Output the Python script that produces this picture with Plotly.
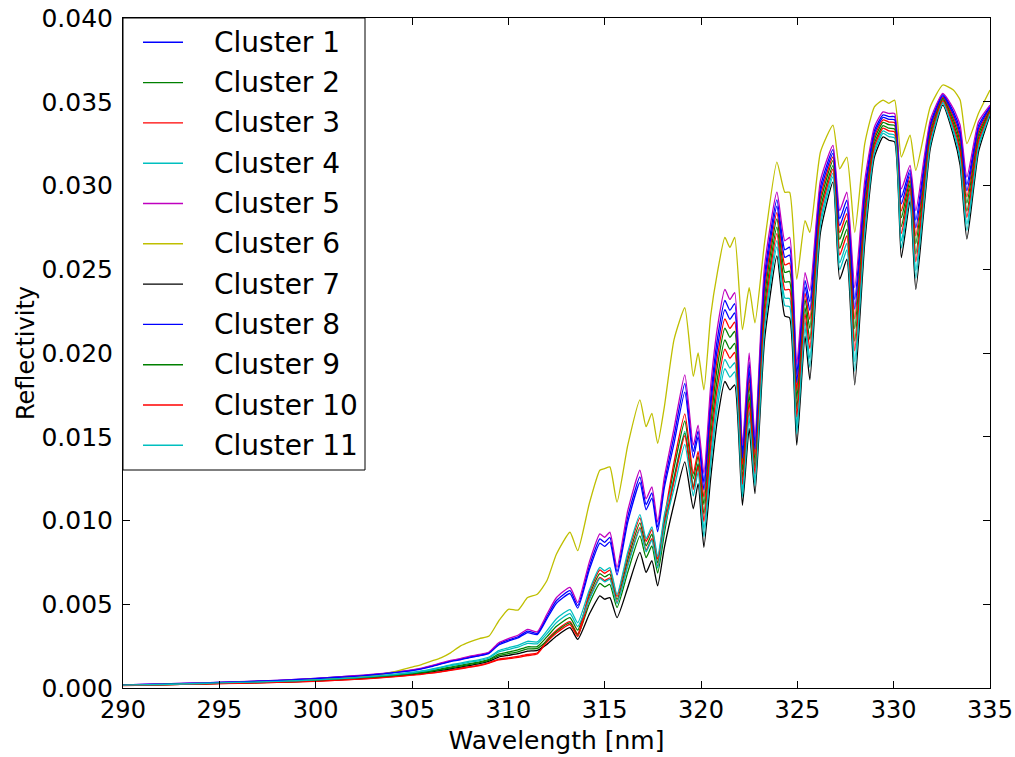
import numpy as np
import plotly.graph_objects as go

# Wavelength grid [nm]
wavelength = [290, 292, 294, 296, 298, 300, 302, 303, 304,
              305, 305.5, 306, 306.5, 307, 307.5, 308, 308.5, 309, 309.5,
              310, 310.5, 311, 311.5, 312, 312.5, 313.2, 313.6,
              314.2, 314.75, 315.0, 315.27, 315.64, 316.2, 316.83, 317.15, 317.45, 317.75, 318.1,
              318.6, 319.16, 319.6, 319.85,
              320.15, 320.5, 320.85, 321.24, 321.5, 321.75, 322.15, 322.5, 322.8, 323.3,
              323.94, 324.35, 324.6, 324.97, 325.4, 325.65, 326.2, 326.85, 327.2, 327.57,
              327.98, 328.5, 329.0, 329.45, 329.75, 330.05, 330.4, 330.85, 331.15, 331.9,
              332.55, 333.1, 333.45, 333.8, 334.4, 335]

# Reflectivity values in units of 1e-4
cluster_1 = [1.9, 2.4, 3.0, 3.7, 4.5, 5.7, 7.2, 8.0, 9.2,
             10.6, 11.6, 13.0, 14.6, 16.1, 17.1, 18.6, 19.6, 21.1, 26.3, 28.7, 30.6, 34.0, 32.6,
             42.6, 52.2, 58.1, 49.2,
             72.5, 89.0, 87.0, 89.9, 69.6, 102.3, 126.1, 109.5, 116.5, 96.0, 122.6,
             150.5, 181.8, 141.2, 153.5,
             122.7, 173.4, 208.4, 231.4, 225.5, 229.4, 140.7, 194.6, 145.9, 246.7,
             291.4, 261.6, 263.2, 187.2, 243.4, 230.6, 299.3, 321.4, 280.1, 291.2,
             232.0, 298.6, 332.8, 342.2, 341.1, 341.0, 293.1, 309.5, 279.4, 337.0,
             354.2, 344.1, 333.1, 300.6, 335.8, 347.3]
cluster_2 = [1.7, 2.1, 2.6, 3.2, 3.7, 4.6, 5.9, 6.6, 7.6,
             8.7, 9.4, 10.3, 11.4, 12.5, 13.5, 14.6, 15.6, 17.1, 20.2, 21.5, 22.7, 24.6, 24.7,
             30.5, 36.8, 42.0, 34.5,
             55.2, 68.3, 66.3, 68.0, 52.8, 76.6, 98.6, 84.8, 91.8, 74.7, 99.1,
             131.2, 159.4, 124.9, 138.5,
             109.5, 156.9, 191.9, 214.9, 209.3, 212.9, 129.9, 181.1, 135.7, 233.5,
             280.0, 248.1, 248.8, 172.8, 232.0, 214.7, 290.0, 314.8, 267.8, 279.2,
             214.6, 287.5, 327.4, 337.7, 336.3, 335.9, 280.8, 303.2, 265.3, 331.9,
             352.1, 339.3, 325.9, 289.5, 330.4, 345.5]
cluster_3 = [1.6, 1.9, 2.4, 2.9, 3.3, 4.1, 5.2, 5.9, 6.8,
             7.8, 8.4, 9.0, 9.8, 10.8, 11.8, 12.7, 13.7, 15.2, 17.2, 18.0, 18.9, 20.1, 20.9,
             28.7, 34.5, 39.6, 32.3,
             57.0, 70.5, 68.5, 70.4, 54.6, 79.3, 101.6, 87.5, 94.5, 77.0, 101.6,
             134.8, 163.6, 127.9, 141.3,
             113.9, 162.4, 197.4, 220.4, 214.7, 218.4, 133.5, 185.6, 139.1, 237.9,
             283.8, 252.6, 253.6, 177.6, 235.8, 220.0, 293.1, 317.0, 271.9, 283.2,
             220.4, 291.2, 329.2, 339.2, 337.9, 337.6, 284.9, 305.3, 270.0, 333.6,
             352.8, 340.9, 328.3, 293.2, 332.2, 346.1]
cluster_4 = [1.7, 2.2, 2.7, 3.4, 4.0, 5.0, 6.3, 7.1, 8.1,
             9.4, 10.2, 11.3, 12.5, 13.8, 14.8, 16.0, 17.0, 18.5, 22.3, 24.0, 25.5, 27.9, 27.5,
             34.1, 41.4, 46.8, 38.9,
             58.3, 72.0, 70.0, 71.9, 55.8, 81.2, 103.5, 89.2, 96.2, 78.5, 103.3,
             125.8, 153.2, 120.3, 134.3,
             94.6, 138.2, 173.2, 196.2, 191.0, 194.2, 117.6, 165.8, 124.2, 218.6,
             267.1, 232.8, 232.5, 156.5, 219.1, 196.7, 279.4, 307.3, 253.8, 265.6,
             194.9, 274.9, 321.3, 332.6, 330.8, 330.1, 266.8, 296.0, 249.3, 326.1,
             349.7, 333.8, 317.8, 276.9, 324.3, 343.4]
cluster_5 = [1.9, 2.4, 3.0, 3.8, 4.6, 5.8, 7.3, 8.2, 9.4,
             10.8, 11.8, 13.3, 15.0, 16.5, 17.5, 19.0, 20.0, 21.5, 27.0, 29.5, 31.5, 35.0, 33.5,
             44.0, 54.0, 60.0, 51.0,
             75.0, 92.0, 90.0, 93.0, 72.0, 106.0, 130.0, 113.0, 120.0, 99.0, 126.0,
             155.0, 187.0, 145.0, 157.0,
             128.0, 180.0, 215.0, 238.0, 232.0, 236.0, 145.0, 200.0, 150.0, 252.0,
             296.0, 267.0, 269.0, 193.0, 248.0, 237.0, 303.0, 324.0, 285.0, 296.0,
             239.0, 303.0, 335.0, 344.0, 343.0, 343.0, 298.0, 312.0, 285.0, 339.0,
             355.0, 346.0, 336.0, 305.0, 338.0, 348.0]
cluster_6 = [1.7, 2.2, 2.7, 3.3, 4.0, 5.0, 6.5, 7.5, 9.5,
             12.5, 14.0, 16.0, 18.0, 21.0, 25.0, 27.5, 29.5, 31.0, 40.0, 47.0, 46.5, 54.0, 56.0,
             64.0, 80.0, 93.0, 82.0,
             110.0, 130.0, 131.0, 132.0, 111.0, 145.0, 172.0, 156.0, 164.0, 146.0, 168.0,
             208.0, 227.0, 186.0, 200.0,
             178.0, 222.0, 248.0, 269.0, 263.0, 269.0, 214.0, 239.0, 218.0, 266.0,
             314.0, 296.0, 296.0, 244.0, 279.0, 272.0, 320.0, 336.0, 310.0, 317.0,
             272.0, 325.0, 347.0, 351.0, 349.0, 351.0, 317.0, 330.0, 309.0, 347.0,
             360.0, 357.0, 351.0, 325.0, 343.0, 357.0]
cluster_7 = [1.6, 2.0, 2.5, 3.0, 3.5, 4.3, 5.5, 6.2, 7.1,
             8.2, 8.8, 9.6, 10.5, 11.5, 12.5, 13.5, 14.5, 16.0, 18.5, 19.5, 20.5, 22.0, 22.5,
             26.0, 31.0, 36.0, 29.0,
             44.0, 55.0, 53.0, 54.0, 42.0, 60.0, 81.0, 69.0, 76.0, 61.0, 84.0,
             110.0, 135.0, 107.0, 122.0,
             84.0, 125.0, 160.0, 183.0, 178.0, 181.0, 109.0, 155.0, 116.0, 208.0,
             258.0, 222.0, 221.0, 145.0, 210.0, 184.0, 272.0, 302.0, 244.0, 256.0,
             181.0, 266.0, 317.0, 329.0, 327.0, 326.0, 257.0, 291.0, 238.0, 322.0,
             348.0, 330.0, 312.0, 268.0, 320.0, 342.0]
cluster_8 = [1.9, 2.3, 2.9, 3.7, 4.4, 5.6, 7.0, 7.9, 9.1,
             10.4, 11.4, 12.7, 14.3, 15.8, 16.8, 18.2, 19.2, 20.7, 25.7, 28.0, 29.9, 33.1, 31.9,
             41.3, 50.6, 56.4, 47.7,
             70.4, 86.5, 84.5, 87.2, 67.5, 99.1, 122.7, 106.4, 113.4, 93.3, 119.7,
             146.0, 176.6, 137.4, 150.0,
             118.3, 167.9, 202.9, 225.9, 220.1, 223.9, 137.1, 190.1, 142.5, 242.3,
             287.6, 257.1, 258.4, 182.4, 239.6, 225.3, 296.2, 319.2, 276.0, 287.2,
             226.2, 294.9, 331.0, 340.7, 339.5, 339.3, 289.0, 307.4, 274.7, 335.3,
             353.5, 342.5, 330.7, 296.9, 334.0, 346.7]
cluster_9 = [1.6, 2.0, 2.5, 3.1, 3.6, 4.5, 5.7, 6.4, 7.3,
             8.5, 9.1, 10.0, 11.0, 12.0, 13.0, 14.1, 15.1, 16.6, 19.4, 20.5, 21.6, 23.3, 23.6,
             28.2, 33.8, 38.9, 31.6,
             50.2, 62.4, 60.4, 61.8, 48.0, 69.2, 90.8, 77.8, 84.8, 68.6, 92.4,
             124.9, 152.2, 119.5, 133.6,
             103.8, 149.8, 184.8, 207.8, 202.3, 205.8, 125.2, 175.3, 131.3, 227.8,
             275.1, 242.3, 242.6, 166.6, 227.1, 207.9, 286.0, 311.9, 262.5, 274.0,
             207.1, 282.7, 325.1, 335.8, 334.2, 333.7, 275.5, 300.5, 259.2, 329.7,
             351.2, 337.2, 322.8, 284.7, 328.1, 344.7]
cluster_10 = [1.5, 1.9, 2.4, 2.8, 3.3, 4.0, 5.1, 5.8, 6.6,
              7.7, 8.2, 8.9, 9.6, 10.5, 11.5, 12.4, 13.4, 14.9, 16.8, 17.5, 18.3, 19.4, 20.3,
              27.4, 32.8, 37.9, 30.8,
              53.3, 66.1, 64.1, 65.7, 51.0, 73.8, 95.7, 82.2, 89.2, 72.4, 96.6,
              123.5, 150.6, 118.4, 132.5,
              99.4, 144.3, 179.3, 202.3, 196.9, 200.3, 121.6, 170.8, 127.9, 223.4,
              271.3, 237.8, 237.8, 161.8, 223.3, 202.6, 282.9, 309.7, 258.4, 270.0,
              201.3, 279.0, 323.3, 334.3, 332.6, 332.0, 271.4, 298.4, 254.5, 328.0,
              350.5, 335.6, 320.4, 281.0, 326.3, 344.1]
cluster_11 = [1.7, 2.1, 2.7, 3.3, 3.9, 4.8, 6.1, 6.9, 7.9,
              9.1, 9.9, 10.9, 12.1, 13.3, 14.3, 15.4, 16.4, 17.9, 21.5, 23.0, 24.4, 26.6, 26.4,
              32.3, 39.1, 44.4, 36.7,
              52.7, 65.4, 63.4, 64.9, 50.4, 72.9, 94.7, 81.3, 88.3, 71.6, 95.8,
              119.0, 145.4, 114.6, 129.0,
              90.2, 132.7, 167.7, 190.7, 185.6, 188.7, 114.0, 161.3, 120.8, 214.2,
              263.3, 228.3, 227.7, 151.7, 215.3, 191.4, 276.3, 305.1, 249.7, 261.6,
              189.1, 271.2, 319.5, 331.1, 329.2, 328.4, 262.7, 293.9, 244.6, 324.4,
              349.0, 332.2, 315.4, 273.2, 322.5, 342.8]

UNIT = 1e-4
series = [cluster_1, cluster_2, cluster_3, cluster_4, cluster_5, cluster_6,
          cluster_7, cluster_8, cluster_9, cluster_10, cluster_11]
names = ["Cluster 1", "Cluster 2", "Cluster 3", "Cluster 4", "Cluster 5", "Cluster 6",
         "Cluster 7", "Cluster 8", "Cluster 9", "Cluster 10", "Cluster 11"]
colors = ["#0000ff", "#008000", "#ff0000", "#00bfbf", "#bf00bf", "#bfbf00",
          "#000000", "#0000ff", "#008000", "#ff0000", "#00bfbf"]

x_ticks = [290, 295, 300, 305, 310, 315, 320, 325, 330, 335]
y_ticks = [0.000, 0.005, 0.010, 0.015, 0.020, 0.025, 0.030, 0.035, 0.040]

# ---- layout geometry (pixels) ----
W, H = 1015, 757
ML, MR, MT, MB = 123, 25, 18, 69
PW, PH = W - ML - MR, H - MT - MB


def px_x(px):
    return (px - ML) / PW


def px_y(py):
    return (H - MB - py) / PH


fig = go.Figure()
for vals, name, col in zip(series, names, colors):
    fig.add_trace(go.Scatter(
        x=wavelength, y=np.array(vals) * UNIT, mode="lines", name=name,
        line=dict(color=col, width=1.3, shape="spline", smoothing=0.5),
        showlegend=False))

font_family = "DejaVu Sans, Verdana, sans-serif"

# legend box drawn in the upper-left corner of the axes (matplotlib style)
shapes = [dict(type="rect", xref="paper", yref="paper",
               x0=px_x(123), x1=px_x(365), y0=px_y(470), y1=px_y(18),
               line=dict(color="black", width=1), fillcolor="white", layer="above")]
annotations = []
row0, row_step = 42.3, 40.3
for i, (name, col) in enumerate(zip(names, colors)):
    yy = row0 + i * row_step
    shapes.append(dict(type="line", xref="paper", yref="paper",
                       x0=px_x(143), x1=px_x(183), y0=px_y(yy), y1=px_y(yy),
                       line=dict(color=col, width=1.4), layer="above"))
    annotations.append(dict(xref="paper", yref="paper", x=px_x(212), y=px_y(yy),
                            text=name, showarrow=False, xanchor="left", yanchor="middle",
                            font=dict(family=font_family, size=28, color="black")))

fig.update_layout(
    width=W, height=H,
    margin=dict(l=ML, r=MR, t=MT, b=MB, autoexpand=False),
    paper_bgcolor="white", plot_bgcolor="white",
    font=dict(family=font_family, size=25, color="black"),
    showlegend=False,
    shapes=shapes, annotations=annotations,
    xaxis=dict(range=[290, 335], tickvals=x_ticks, ticks="inside", ticklen=7,
               tickcolor="black", showline=True, linecolor="black", linewidth=1,
               mirror="ticks", showgrid=False, zeroline=False, automargin=False,
               tickfont=dict(family=font_family, size=24),
               title=dict(text="Wavelength [nm]", standoff=8,
                          font=dict(family=font_family, size=25))),
    yaxis=dict(range=[0, 0.04], tickvals=y_ticks, tickformat=".3f", ticks="inside",
               ticklen=7, tickcolor="black", showline=True, linecolor="black",
               linewidth=1, mirror="ticks", showgrid=False, zeroline=False,
               automargin=False, ticklabelstandoff=4,
               tickfont=dict(family=font_family, size=25),
               title=dict(text="Reflectivity", standoff=0,
                          font=dict(family=font_family, size=24))),
)

fig.write_html("out.html")
